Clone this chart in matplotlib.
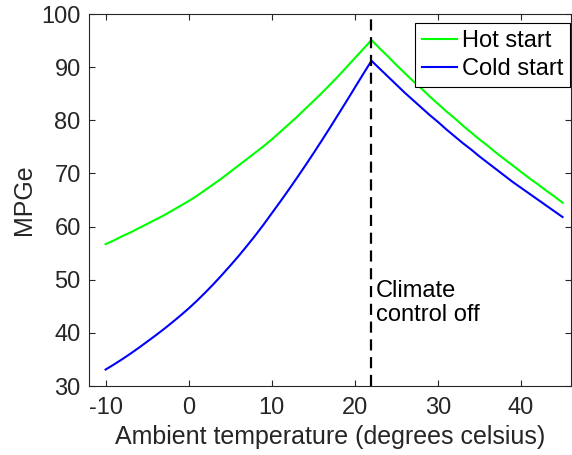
import matplotlib
matplotlib.use("Agg")
import matplotlib.pyplot as plt

plt.rcParams['font.family'] = ['Liberation Sans', 'DejaVu Sans']
plt.rcParams['axes.unicode_minus'] = False

# ambient temperature (deg C), one reading per degree
temps = list(range(-10, 46))

# MPGe readings, -10 .. 45
hot_start = [56.7, 57.4, 58.2, 58.9, 59.7, 60.5, 61.3, 62.1, 63.0, 63.9,
             64.8, 65.8, 66.9, 68.0, 69.1, 70.3, 71.5, 72.7, 73.9, 75.1,
             76.4, 77.8, 79.2, 80.6, 82.1, 83.6, 85.1, 86.7, 88.3, 90.0,
             91.7, 93.4, 95.1,
             93.5, 92.0, 90.4, 88.9, 87.4, 86.0, 84.5, 83.1, 81.7, 80.4,
             79.0, 77.7, 76.4, 75.2, 73.9, 72.7, 71.5, 70.3, 69.1, 68.0,
             66.8, 65.7, 64.5]
cold_start = [33.1, 34.05, 35.05, 36.1, 37.2, 38.35, 39.5, 40.7, 41.95, 43.25,
              44.6, 46.05, 47.6, 49.2, 50.9, 52.65, 54.45, 56.35, 58.3, 60.35,
              62.5, 64.65, 66.85, 69.1, 71.4, 73.75, 76.15, 78.6, 81.1, 83.6,
              86.15, 88.7, 91.2,
              89.7, 88.2, 86.7, 85.2, 83.8, 82.4, 81.0, 79.7, 78.3, 77.0,
              75.7, 74.5, 73.2, 72.0, 70.8, 69.6, 68.4, 67.3, 66.2, 65.1,
              64.0, 62.9, 61.8]

climate_off_temp = 22
x_ticks = [-10, 0, 10, 20, 30, 40]
y_ticks = [30, 40, 50, 60, 70, 80, 90, 100]

fig = plt.figure(figsize=(5.72, 4.55), dpi=100)
ax = fig.add_axes([0.1556, 0.1516, 0.8424, 0.8176])

ax.plot(temps, hot_start, color='#00ff00', linewidth=1.5, label='Hot start')
ax.plot(temps, cold_start, color='#0000ff', linewidth=1.5, label='Cold start')
ax.axvline(climate_off_temp, color='black', linestyle=(0, (5, 3)), linewidth=1.6)
ax.text(climate_off_temp + 0.5, 45.6, 'Climate\ncontrol off', fontsize=17,
        ha='left', va='center', linespacing=1.15)

ax.set_xlim(-12, 46)
ax.set_ylim(30, 100)
ax.set_xticks(x_ticks)
ax.set_yticks(y_ticks)

edge = '#262626'
for s in ax.spines.values():
    s.set_color(edge)
    s.set_linewidth(0.8)
ax.tick_params(direction='in', length=4, width=0.8, color=edge, labelcolor=edge,
               labelsize=17, top=True, right=True)
ax.tick_params(axis='x', pad=8)
ax.tick_params(axis='y', pad=6)

ax.set_xlabel('Ambient temperature (degrees celsius)', fontsize=18, color=edge, labelpad=4)
ax.set_ylabel('MPGe', fontsize=18, color=edge, labelpad=4)

leg = ax.legend(loc='upper right', bbox_to_anchor=(0.999, 0.976), fontsize=17,
                fancybox=False, framealpha=1, edgecolor='black',
                handlelength=1.5, handletextpad=0.2, borderpad=0.3,
                labelspacing=0.25, borderaxespad=0)
leg.get_frame().set_linewidth(0.8)

fig.savefig('out.png', dpi=100)
